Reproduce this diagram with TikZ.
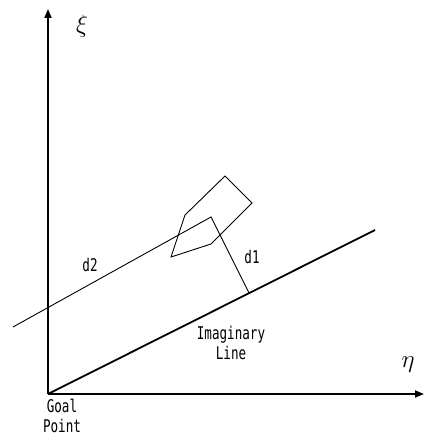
\documentclass[tikz,border=0pt]{standalone}
\usepackage{fontspec}
\usepackage{amsmath}
\usetikzlibrary{arrows.meta,calc}
\newfontfamily\labelfont[FakeStretch=0.72]{DejaVu Sans Mono}

\tikzset{
   axis/.style={line width=1.8pt,-{Triangle[length=9pt,width=7pt]}},
   thinline/.style={line width=0.9pt},
   txt/.style={font=\labelfont\fontsize{17.5}{20}\selectfont,inner sep=0pt,align=center}
}

\begin{document}
\begin{tikzpicture}[x=1pt,y=-1pt]
   \useasboundingbox (0,0) rectangle (424,436);

   % axes
   \coordinate (O) at (48,394);
   \coordinate (xend) at (424,394);
   \coordinate (yend) at (48,9);
   \draw[axis] (O) -- (xend);
   \draw[axis] (O) -- (yend);
   \node[inner sep=0pt] (eta) at (408,365) {\fontsize{31}{31}\selectfont$\eta$};
   \node[inner sep=0pt] (xi) at (82,26) {\fontsize{25}{25}\selectfont$\xi$};

   % imaginary line
   \coordinate (L) at (375,230);
   \draw[line width=1.8pt] (O) -- (L);
   \node[txt] (imag) at (231,343) {Imaginary\\Line};
   \node[txt] (goal) at (62,415.5) {Goal\\Point};

   % obstacle
   \draw[thinline] (225,176) -- (252,203) -- (211,244) -- (171,257) -- (185,215) -- cycle;

   % distances
   \coordinate (A) at (13,327);
   \coordinate (P) at (211,217);
   \coordinate (F) at ($(O)!(P)!(L)$);
   \draw[thinline] (A) -- (P) -- (F);
   \node[txt] (d2) at (90,265) {d2};
   \node[txt] (d1) at (252,257) {d1};
\end{tikzpicture}
\end{document}
